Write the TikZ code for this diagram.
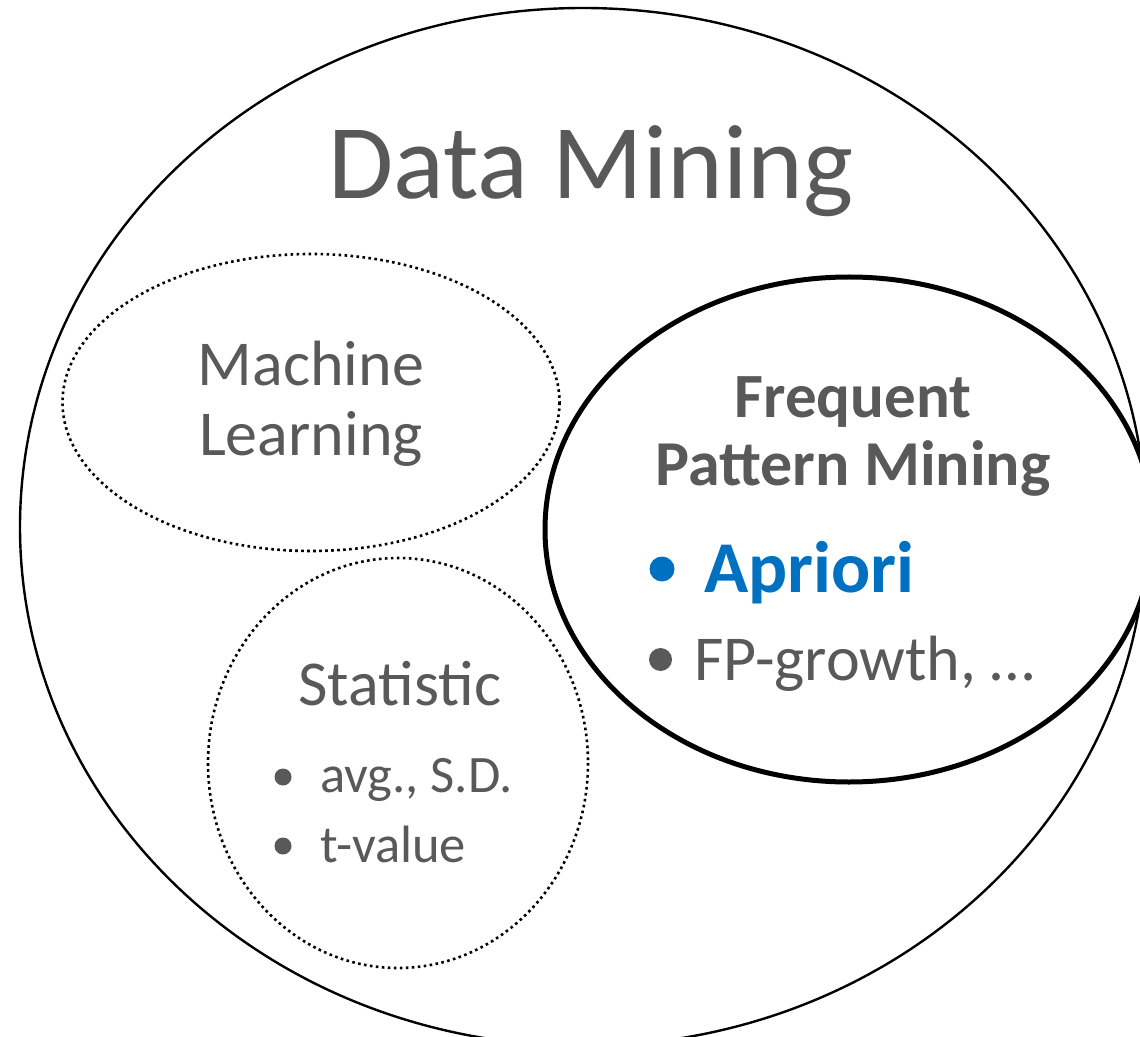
\documentclass[tikz,border=0pt]{standalone}
\usepackage{fontspec}
\setmainfont{Carlito}
\definecolor{txtgray}{HTML}{595959}
\definecolor{hiblue}{HTML}{0070C0}
\tikzset{
  outerline/.style={line width=1.2pt, black},
  dotline/.style={line width=1.3pt, black, dash pattern=on 1.3pt off 1.7pt},
  boldline/.style={line width=2.5pt, black},
  label/.style={text=txtgray, inner sep=0pt, anchor=base},
  item/.style={text=txtgray, inner sep=0pt, anchor=base west},
  dot/.style={circle, fill=txtgray, inner sep=0pt, minimum size=#1},
}
\begin{document}
\begin{tikzpicture}[x=0.5pt, y=-0.5pt]
  \useasboundingbox (0,0) rectangle (1140,1037);
  \clip (0,0) rectangle (1140,1037);

  % outer region and the three inner areas
  \draw[outerline] (583,527) ellipse [x radius=563, y radius=519];
  \draw[dotline] (311,402.5) ellipse [x radius=248.5, y radius=148.5];
  \draw[dotline] (398,763) ellipse [x radius=190, y radius=205];
  \draw[boldline] (849,529.5) ellipse [x radius=304, y radius=252.5];

  % titles
  \node[label, font=\fontsize{53}{63}\selectfont] (dm) at (591,199) {Data Mining};
  \node[label, font=\fontsize{32}{38}\selectfont] (ml1) at (311,386) {Machine};
  \node[label, font=\fontsize{32}{38}\selectfont] (ml2) at (311,455) {Learning};
  \node[label, font=\fontsize{32}{38}\selectfont] (st) at (400,705) {Statistic};
  \node[label, font=\fontsize{31.5}{38}\selectfont\bfseries] (fp1) at (853,417) {Frequent};
  \node[label, font=\fontsize{32}{38}\selectfont\bfseries] (fp2) at (853,485.5) {Pattern Mining};

  % frequent pattern mining items
  \node[dot=12.5pt, fill=hiblue] (b1) at (662,569) {};
  \node[item, text=hiblue, font=\fontsize{36.5}{44}\selectfont\bfseries] (ap) at (704,592) {Apriori};
  \node[dot=11.5pt] (b2) at (660.5,659.5) {};
  \node[item, font=\fontsize{32}{38}\selectfont] (fpg) at (694,680) {FP-growth, …};

  % statistic items
  \node[dot=8.5pt] (b3) at (283,777) {};
  \node[item, font=\fontsize{26.3}{31}\selectfont] (avg) at (320,792) {avg., S.D.};
  \node[dot=8.5pt] (b4) at (283,846) {};
  \node[item, font=\fontsize{26.3}{31}\selectfont] (tv) at (320,862) {t-value};
\end{tikzpicture}
\end{document}
